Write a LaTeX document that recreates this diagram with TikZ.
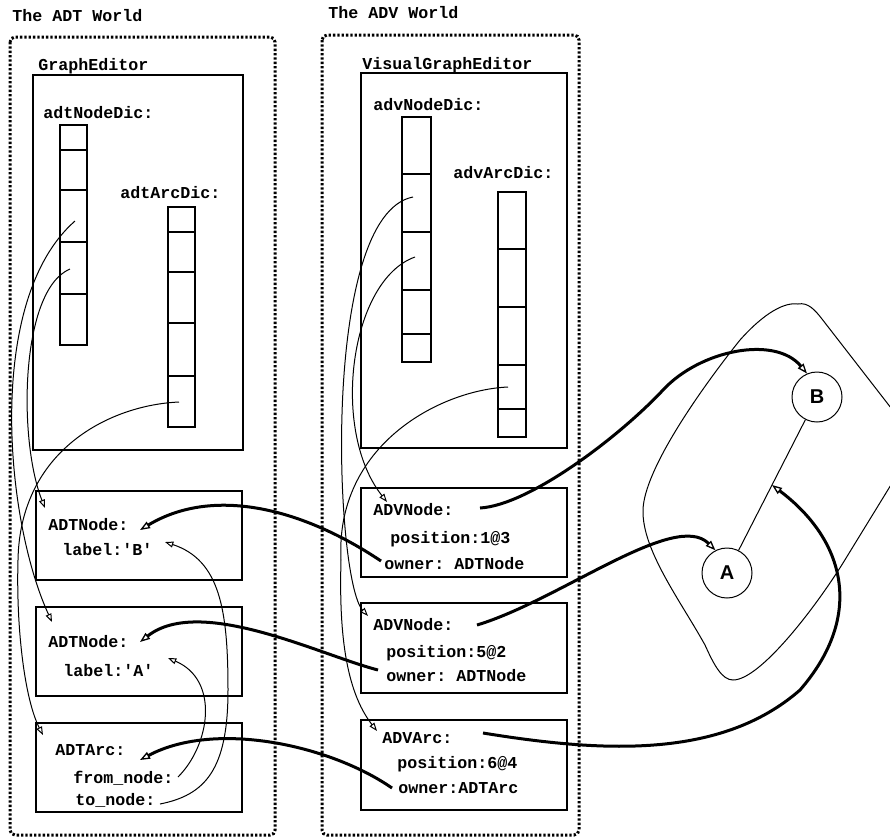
\documentclass[tikz,border=0pt]{standalone}
\usepackage{fontspec}
\setmonofont{Liberation Mono}
\setsansfont{Liberation Sans}
\usetikzlibrary{arrows.meta,calc}

\begin{document}
\begin{tikzpicture}[x=0.6pt,y=-0.6pt,
  mono/.style={font=\ttfamily\bfseries\fontsize{10}{12}\selectfont, anchor=base west, inner sep=0pt},
  worldframe/.style={line width=1.8pt, dash pattern=on 1.4pt off 1.2pt, rounded corners=3pt},
  objbox/.style={line width=0.8pt},
  dictcell/.style={line width=0.8pt},
  refarrow/.style={line width=0.6pt, -{Triangle[open,length=5pt,width=3.6pt,line width=0.6pt]}},
  ownerarrow/.style={line width=1.8pt, -{Triangle[open,length=6pt,width=4.4pt,line width=0.8pt]}},
  vertex/.style={circle, draw, line width=0.6pt, minimum size=30pt, inner sep=0pt,
                 font=\sffamily\bfseries\fontsize{12}{14}\selectfont},
]
\useasboundingbox (0,0) rectangle (890,838);
\clip (0,0) rectangle (890,838);

% ---------------- world frames and titles ----------------
\node[mono] (tADT) at (12,21) {The ADT World};
\node[mono] (tADV) at (328,18) {The ADV World};
\draw[worldframe] (10,37) rectangle (275,835);
\draw[worldframe] (322,35) rectangle (579,835);

% ---------------- editors ----------------
\node[mono] (lGE) at (38,70) {GraphEditor};
\draw[objbox] (33,75) rectangle (243,450);
\node[mono] (lVGE) at (362,69) {VisualGraphEditor};
\draw[objbox] (361,73) rectangle (567,448);

% ---------------- dictionaries ----------------
\node[mono] (lAND) at (43,118) {adtNodeDic:};
\draw[dictcell] (60,125) rectangle (87,345);
\foreach \y in {150,190,242,294} \draw[dictcell] (60,\y) -- (87,\y);

\node[mono] (lAAD) at (120,198) {adtArcDic:};
\draw[dictcell] (168,207) rectangle (195,427);
\foreach \y in {232,272,323,376} \draw[dictcell] (168,\y) -- (195,\y);

\node[mono] (lVND) at (373,110) {advNodeDic:};
\draw[dictcell] (402,117) rectangle (431,362);
\foreach \y in {174,232,290,334} \draw[dictcell] (402,\y) -- (431,\y);

\node[mono] (lVAD) at (453,178) {advArcDic:};
\draw[dictcell] (498,192) rectangle (526,437);
\foreach \y in {249,307,365,409} \draw[dictcell] (498,\y) -- (526,\y);

% dictionary entries that hold references
\coordinate (cellTN3) at (75,221);
\coordinate (cellTN4) at (70,269);
\coordinate (cellTA5) at (179,402);
\coordinate (cellVN2) at (413,197);
\coordinate (cellVN3) at (415,257);
\coordinate (cellVA4) at (508,387);

% ---------------- ADT objects ----------------
\draw[objbox] (36,491) rectangle (242,580);
\node[mono] (adtB) at (48,530) {ADTNode:};
\node[mono] (adtBlab) at (62,555) {label:'B'};

\draw[objbox] (36,607) rectangle (242,696);
\node[mono] (adtA) at (48,647) {ADTNode:};
\node[mono] (adtAlab) at (63,676) {label:'A'};

\draw[objbox] (36,723) rectangle (242,812);
\node[mono] (adtArc) at (55,755) {ADTArc:};
\node[mono] (adtFrom) at (73,783) {from\_node:};
\node[mono] (adtTo) at (75,805) {to\_node:};

% ---------------- ADV objects ----------------
\draw[objbox] (361,488) rectangle (567,577);
\node[mono] (advN1) at (373,515) {ADVNode:};
\node[mono] (advN1pos) at (390,543) {position:1@3};
\node[mono] (advN1own) at (384,569) {owner: ADTNode};

\draw[objbox] (361,603) rectangle (567,693);
\node[mono] (advN2) at (373,630) {ADVNode:};
\node[mono] (advN2pos) at (386,657) {position:5@2};
\node[mono] (advN2own) at (386,681) {owner: ADTNode};

\draw[objbox] (361,720) rectangle (567,810);
\node[mono] (advArc) at (382,743) {ADVArc:};
\node[mono] (advArcpos) at (397,768) {position:6@4};
\node[mono] (advArcown) at (398,793) {owner:ADTArc};

% ---------------- the drawn graph ----------------
\draw[line width=0.6pt]
  (798,304) .. controls (808,302) and (815,310) .. (822,319)
  -- (905,426) .. controls (915,440) and (912,450) .. (905,462)
  -- (843,563) .. controls (815,608) and (760,680) .. (733,680)
  .. controls (722,680) and (714,665) .. (705,645)
  .. controls (680,600) and (642,550) .. (643,510)
  .. controls (644,470) and (700,390) .. (740,340)
  .. controls (765,312) and (785,302) .. (798,304) -- cycle;
\node[vertex, fill=white] (B) at (817,397) {B};
\node[vertex, fill=white] (A) at (727,573) {A};
\draw[line width=0.6pt] (A) -- (B);
\coordinate (abmid) at ($(A)!0.5!(B)$);

% ---------------- connector end points ----------------
\coordinate (adtBin) at (45,508);
\coordinate (adtAin) at (52,622);
\coordinate (adtArcin) at (43,735);
\coordinate (adtBref) at (140,530);
\coordinate (adtAref) at (140,642);
\coordinate (adtArcref) at (140,760);
\coordinate (labBin) at (165,542);
\coordinate (labAin) at (168,658);
\coordinate (fromout) at (178,777);
\coordinate (toout) at (160,804);

\coordinate (v1in) at (387,502);
\coordinate (v2in) at (368,616);
\coordinate (varcin) at (377,731);
\coordinate (v1out) at (480,508);
\coordinate (v2out) at (477,625);
\coordinate (varcout) at (483,733);
\coordinate (v1own) at (381,561);
\coordinate (v2own) at (378,670);
\coordinate (varcown) at (392,788);

% dictionary entries -> objects
\draw[refarrow] (cellTN3) .. controls (-15,300) and (5,520) .. (adtAin);
\draw[refarrow] (cellTN4) .. controls (20,290) and (18,440) .. (adtBin);
\draw[refarrow] (cellTA5) .. controls (110,405) and (20,450) .. (18,560)
                .. controls (16,630) and (25,700) .. (adtArcin);
\draw[refarrow] (cellVN2) .. controls (320,215) and (335,580) .. (v2in);
\draw[refarrow] (cellVN3) .. controls (350,280) and (330,430) .. (v1in);
\draw[refarrow] (cellVA4) .. controls (440,390) and (335,445) .. (341,560)
                .. controls (339,630) and (345,690) .. (varcin);

% arc ends -> nodes
\draw[refarrow] (fromout) .. controls (210,745) and (220,680) .. (labAin);
\draw[refarrow] (toout) .. controls (205,795) and (228,770) .. (228,690)
                .. controls (228,610) and (220,560) .. (labBin);

% owners
\draw[ownerarrow] (v1own) .. controls (305,510) and (215,485) .. (adtBref);
\draw[ownerarrow] (v2own) .. controls (320,655) and (200,595) .. (adtAref);
\draw[ownerarrow] (varcown) .. controls (330,745) and (215,720) .. (adtArcref);

% views -> drawn graph
\draw[ownerarrow] (v1out) .. controls (530,505) and (620,436) .. (663,390)
                  .. controls (700,350) and (775,335) .. (B.113);
\draw[ownerarrow] (v2out) .. controls (560,600) and (675,510) .. (A.117);
\draw[ownerarrow] (varcout) .. controls (600,752) and (720,760) .. (800,690)
                  .. controls (865,615) and (845,540) .. (abmid);
\end{tikzpicture}
\end{document}
